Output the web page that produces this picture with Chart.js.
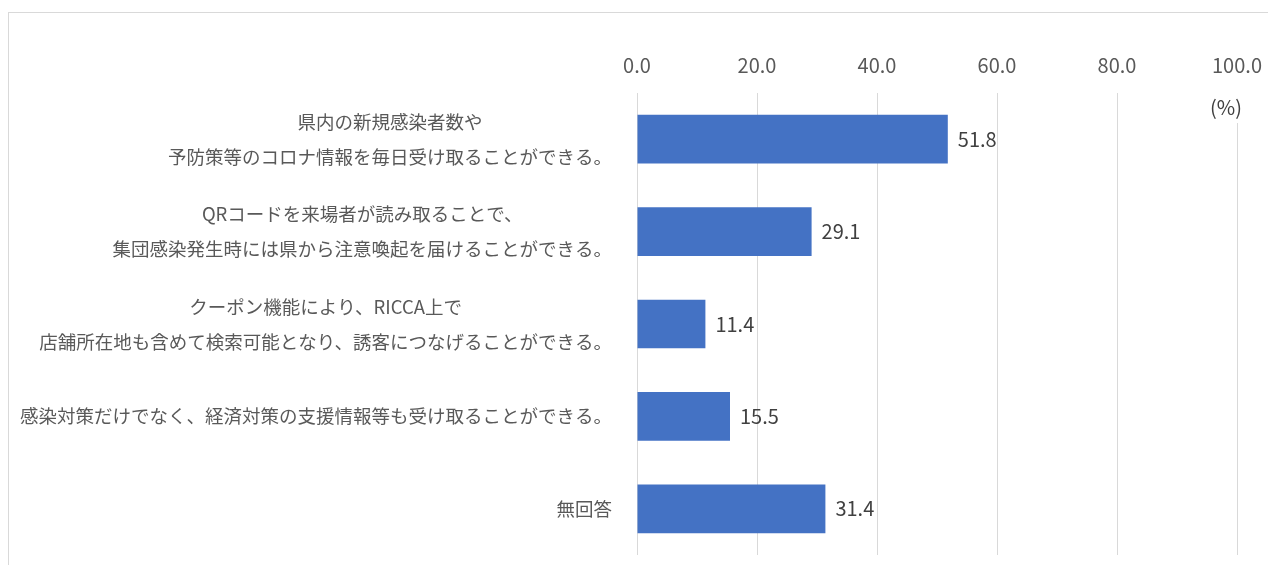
<!DOCTYPE html>
<html>
<head>
<meta charset="utf-8">
<script src="https://cdn.jsdelivr.net/npm/chart.js"></script>
<style>
  html, body { margin: 0; padding: 0; background: #fff; }
  #wrap { position: relative; width: 1268px; height: 565px; overflow: hidden; }
  #frame { position: absolute; left: 8px; top: 12px; width: 1300px; height: 620px; border: 1px solid #d9d9d9; box-sizing: border-box; }
  #chart { position: absolute; left: 0; top: 0; }
</style>
</head>
<body>
<div id="wrap">
  <div id="frame"></div>
  <canvas id="chart" width="1268" height="565"></canvas>
</div>
<script>
// categories (multi-line labels), values and axis ticks
const categories = [
  ["県内の新規感染者数や", "予防策等のコロナ情報を毎日受け取ることができる。"],
  ["QRコードを来場者が読み取ることで、", "集団感染発生時には県から注意喚起を届けることができる。"],
  ["クーポン機能により、RICCA上で", "店舗所在地も含めて検索可能となり、誘客につなげることができる。"],
  ["感染対策だけでなく、経済対策の支援情報等も受け取ることができる。"],
  ["無回答"]
];
const values = [51.8, 29.1, 11.4, 15.5, 31.4];
const tickValues = [0, 20, 40, 60, 80, 100];
const unitLabel = "(%)";

const fontFamily = "'Noto Sans CJK JP', 'Noto Sans', sans-serif";

// category labels: block right-aligned, lines centred on each other
const yLabelPlugin = {
  id: 'yLabels',
  afterDraw(chart) {
    const ctx = chart.ctx;
    const yScale = chart.scales.y;
    const right = chart.chartArea.left - 25;
    ctx.save();
    ctx.font = "18.5px " + fontFamily;
    ctx.fillStyle = '#595959';
    ctx.textAlign = 'center';
    ctx.textBaseline = 'middle';
    categories.forEach((lines, i) => {
      const widest = Math.max(...lines.map(l => ctx.measureText(l).width));
      const cx = right - widest / 2;
      const cy = yScale.getPixelForValue(i);
      lines.forEach((line, j) => {
        ctx.fillText(line, cx, cy + (j - (lines.length - 1) / 2) * 35);
      });
    });
    ctx.restore();
  }
};

// value labels after each bar + the (%) unit under 100
const valueLabelPlugin = {
  id: 'valueLabels',
  afterDraw(chart) {
    const ctx = chart.ctx;
    const meta = chart.getDatasetMeta(0);
    ctx.save();
    ctx.font = "20px " + fontFamily;
    ctx.fillStyle = '#404040';
    ctx.textAlign = 'left';
    ctx.textBaseline = 'middle';
    meta.data.forEach((bar, i) => {
      ctx.fillText(values[i].toFixed(1), bar.x + 10, bar.y);
    });

    // unit label sits over the top of the 100 gridline
    const x100 = chart.scales.x.getPixelForValue(100);
    const top = chart.chartArea.top;
    ctx.fillStyle = '#ffffff';
    ctx.fillRect(x100 - 32, top, 50, 30);
    ctx.fillStyle = '#404040';
    ctx.textAlign = 'center';
    ctx.fillText(unitLabel, x100 - 11, top + 14);
    ctx.restore();
  }
};

const ctx = document.getElementById('chart').getContext('2d');
const chart = new Chart(ctx, {
  type: 'bar',
  data: {
    labels: categories,
    datasets: [{
      data: values,
      backgroundColor: '#4472C4',
      borderWidth: 0,
      categoryPercentage: 1,
      barPercentage: 0.527
    }]
  },
  options: {
    indexAxis: 'y',
    responsive: false,
    animation: false,
    devicePixelRatio: 1,
    layout: {
      padding: { left: 637, right: 31, top: 37, bottom: 10 }
    },
    plugins: {
      legend: { display: false },
      tooltip: { enabled: false }
    },
    scales: {
      x: {
        position: 'top',
        min: 0,
        max: 100,
        afterBuildTicks: (scale) => { scale.ticks = tickValues.map(v => ({ value: v })); },
        afterFit: (scale) => { scale.paddingLeft = 0; scale.paddingRight = 0; },
        ticks: {
          callback: (v) => Number(v).toFixed(1),
          color: '#595959',
          font: { family: fontFamily, size: 20 },
          padding: 16,
          maxRotation: 0
        },
        grid: { color: '#d9d9d9', lineWidth: 1, drawTicks: false },
        border: { display: false }
      },
      y: {
        display: false
      }
    }
  },
  plugins: [yLabelPlugin, valueLabelPlugin]
});
</script>
</body>
</html>
